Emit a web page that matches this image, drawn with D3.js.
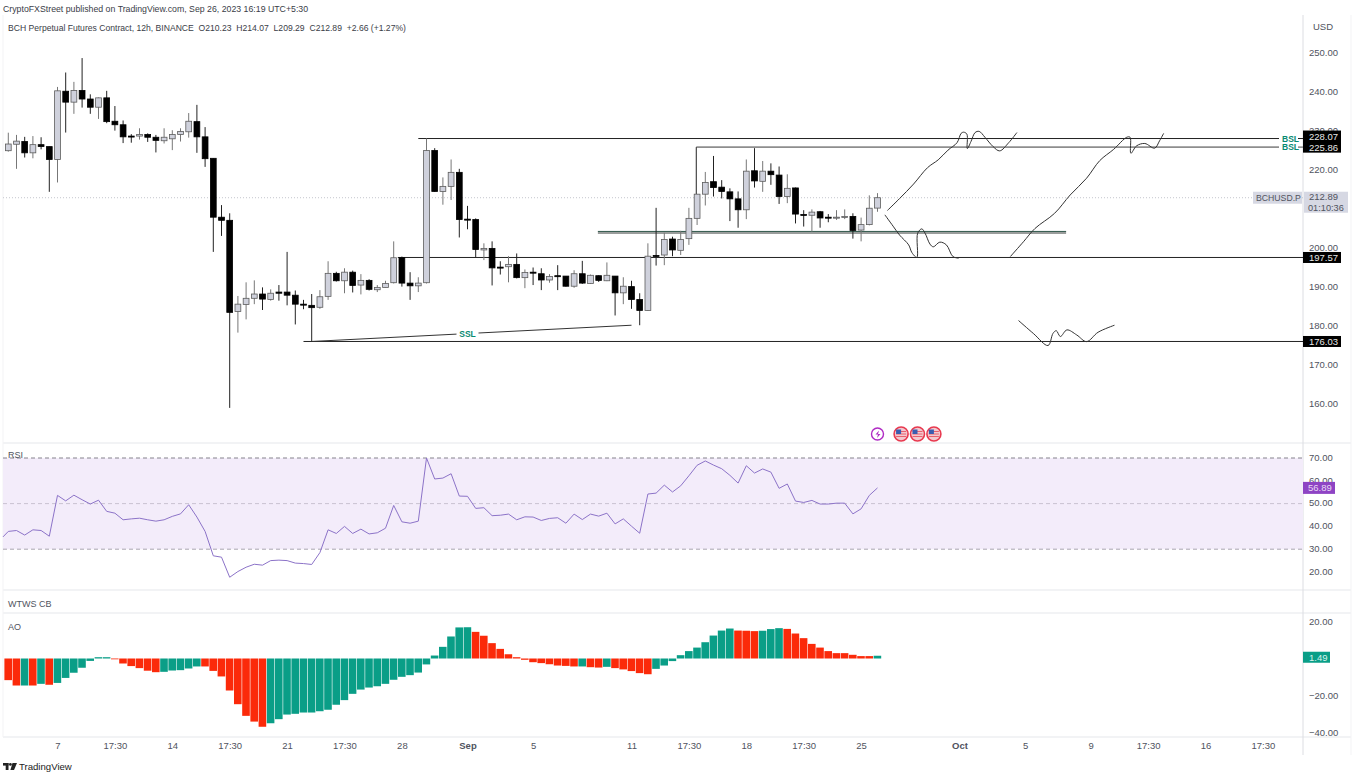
<![CDATA[<html>
<head>
  <meta charset="utf-8">
  <style>
    body { margin: 0; background: #fff; }
    text { font-family: "Liberation Sans", Inter, sans-serif; fill: #50535e; }
    .axis path, .axis line { display: none; }
    .axis text { font-family: "Liberation Sans", Inter, sans-serif; font-size: 9.5px; fill: #50535e; }
    path.drawn { fill: none; stroke: #333; stroke-width: 1; }
  </style>
  <script type="text/javascript" src="https://d3js.org/d3.v7.min.js"></script>
</head>
<body>
<div id="chart"></div>
<script>
  // open, high, low, close - one row per 12h bar
  var candles = [
    [224.95,229.57,224.7,226.66],[226.6,229,220.3,227.4],[227.3,228.5,223.2,224.4],[224.4,228.7,223,226.5],
    [226.5,228.4,225.3,226],[226,226,214.4,222.7],[222.7,241.3,216.8,240.3],[240.2,245,229.6,237.4],
    [237.4,242.6,234.4,240.4],[240.4,248.7,236,238.2],[238.2,239.4,234.4,236.1],[236.1,238.6,233.1,238.5],
    [238.5,240.3,232,232.4],[232.5,236.4,230.1,231.6],[231.6,232.7,226.9,228.5],[228.7,229.2,227,228.5],
    [228.7,230.7,227.8,229.1],[229.1,229.4,227.2,228.4],[228.4,229,224.5,227.6],[227.5,230.7,226.8,228.4],
    [228,230.2,225.1,229.1],[229.1,230.7,227.3,229.9],[229.8,234.6,228.3,232.5],[232.4,236.7,224.4,228.5],
    [228.5,231,220.8,222.9],[223,223,199,207.9],[207.9,211,203.1,207.1],[207.1,208.9,159,183.5],
    [183.7,187.7,178.3,185.6],[185.5,191.2,181.7,187.1],[187.1,191.7,185.6,188.2],[188.2,189.9,184.1,186.9],
    [186.8,189.4,186.5,188.4],[188.7,190.5,186.5,188.4],[188.7,199,185.3,187.9],[187.9,189.1,180.4,185.6],
    [185.6,186.7,184.3,185.4],[185.3,188.2,176.1,184.7],[184.8,189.2,184.4,187.5],[187.6,196.6,186.7,193.5],
    [193.5,193.9,191.4,191.6],[191.6,194.8,188.4,193.8],[193.8,194.2,188.6,190.4],[190.5,193.3,188.1,191.7],
    [191.7,192,189.1,189.4],[189.3,190.5,188.7,189.9],[189.9,191.6,189.9,190.9],[191.1,201.7,190.9,197.5],
    [197.5,197.8,190.1,191],[191,193.8,186.7,190.3],[190.3,192.5,188.7,191],[191.1,228.1,190.9,225],
    [225,225.6,214.4,214.5],[214.5,218.1,211.1,215.8],[215.8,222.7,212.3,219.4],[219.4,220.3,202.7,207.3],
    [207.4,210.8,204.8,207.2],[207.3,207.6,197.6,199.6],[199.5,201.2,196.9,199.9],[199.9,201.7,190.4,194.9],
    [195.1,196.6,193.2,194.9],[195.2,197.9,191.2,195.8],[195.8,198.6,192.2,192.4],[192.4,194.5,189.7,193.7],
    [193.8,195,190.5,193.6],[193.4,194.8,189.2,191.8],[191.8,193.3,191.1,192.7],[192.9,195.6,189.2,192.7],
    [192.8,192.8,190.1,190.2],[190.2,194.3,189.8,193.4],[193.4,196.7,190.8,191],[190.9,193.2,190.8,193],
    [192.9,193,191.3,191.7],[191.6,196.3,191.5,193],[192.8,192.8,182.7,188.5],[188.5,192.5,185.6,190.2],
    [190.1,191.6,184.4,186.8],[186.8,188.4,180.2,184],[184,201.2,183.9,197.9],[198.1,210.3,195.5,197.9],
    [198.2,203.9,195.6,202.2],[202.3,202.9,197.9,199.5],[199.4,204.4,198.2,202.2],[202.4,210.3,200.8,207.6],
    [207.6,213.8,205.9,213.8],[213.8,219.5,210.9,216.8],[217,223.6,213.2,215.5],[215.6,217.4,212.7,214.5],
    [214.4,215.3,206.9,212.6],[212.6,214.5,205.2,209.8],[209.8,222.7,207.4,219.7],[219.8,225.6,215.5,217.2],
    [217.1,222.3,214.4,219.7],[219.7,221.7,216.2,218.8],[218.7,220.9,211.3,213.2],[213.2,218.9,211.5,215.3],
    [215.4,215.5,206.3,208.7],[208.6,209.7,205.5,208.5],[208.4,209.9,204.2,209.2],[209.3,209.5,205.2,207.7],
    [207.9,208.7,206.6,207.7],[207.7,209.7,207.2,207.9],[207.9,209.9,207.4,208.1],[208.1,208.9,202.4,204.5],
    [204.6,207.8,201.7,206],[206,213.5,205.8,210.2],[210.23,214.07,209.29,212.89]
  ];

  // first value is the bar just off the left edge
  var rsi = [35.4,
    37.8,38.2,36.2,38.5,38.2,35.7,53.6,51.2,53.7,51.7,49.8,51.5,46.6,45.8,42.9,43.3,43.6,42.9,42.3,42.9,
    44.4,45.5,49.5,44.1,37.8,27.1,26.5,17.7,20.2,22.1,23.4,23,25,25.2,25,23.9,23.7,23.3,28.5,38.5,
    36.9,40,36.9,38.8,36.7,37.2,39.2,49.2,42,41.4,42.3,70,60.8,61.2,63.1,53.3,53.2,47.9,48.2,44.7,
    44.9,45.4,42.9,44.2,44.1,42.6,43.5,43.8,41.4,45.4,43,45.4,44.5,45.8,41.1,43.3,40.1,37,54.2,54.6,
    58.1,55.1,57.8,62.2,66.8,68.7,66.9,65.3,62.4,59,66.6,63.4,65.2,63.8,56.7,58.6,51.1,50.5,51.4,49.8,
    49.8,50.2,50.2,45.5,47.7,53.6,56.89
  ];

  // [value, colour flag] g = teal, r = red
  var ao = [
    [-11.7,"r"],[-14.6,"r"],[-14.6,"g"],[-14.6,"r"],[-13.7,"g"],[-14.2,"r"],[-13.2,"g"],[-10.5,"g"],[-7.7,"g"],[-5,"g"],
    [-1.3,"g"],[0.7,"g"],[0.7,"g"],[-0.2,"r"],[-2.7,"r"],[-4.1,"r"],[-5.2,"r"],[-6.6,"r"],[-7.4,"r"],[-7.2,"g"],
    [-6.5,"g"],[-6.3,"g"],[-5.4,"g"],[-4.3,"g"],[-4.3,"r"],[-6.7,"r"],[-9.7,"r"],[-17.3,"r"],[-24.7,"r"],[-31,"r"],
    [-34.1,"r"],[-36.9,"r"],[-35,"g"],[-32.8,"g"],[-30.3,"g"],[-29.9,"g"],[-29.2,"g"],[-29.2,"g"],[-28.5,"g"],[-27.7,"g"],
    [-25,"g"],[-22.5,"g"],[-19.1,"g"],[-16.8,"g"],[-15.7,"g"],[-15,"g"],[-13.7,"g"],[-11.5,"g"],[-9.9,"g"],[-9,"g"],
    [-7.6,"g"],[-3.2,"g"],[1.6,"g"],[6.3,"g"],[11.9,"g"],[16.8,"g"],[16.9,"g"],[14.4,"r"],[12.3,"r"],[8.3,"r"],
    [5.2,"r"],[2.3,"r"],[0.7,"r"],[-0.7,"r"],[-2,"r"],[-2.5,"r"],[-3.1,"r"],[-3.8,"r"],[-4,"r"],[-4.3,"r"],
    [-4.3,"g"],[-4.7,"r"],[-4.9,"r"],[-4.5,"g"],[-5.2,"r"],[-5.9,"r"],[-6.8,"r"],[-7.9,"r"],[-8.5,"r"],[-5.6,"g"],
    [-3.8,"g"],[-1.4,"g"],[1.8,"g"],[4,"g"],[5.9,"g"],[8.8,"g"],[12.4,"g"],[15.1,"g"],[16.2,"g"],[15.1,"r"],
    [15,"r"],[14.8,"r"],[15,"g"],[15.9,"g"],[16.4,"g"],[16,"r"],[13.5,"r"],[11,"r"],[7.9,"r"],[5.9,"r"],
    [4,"r"],[2.9,"r"],[2.9,"r"],[2,"r"],[1.3,"r"],[1.3,"r"],[1.49,"g"]
  ];

  // hand drawn projections, [bar index, price]
  var sketches = [
    [[107.2,209.6],[108.7,212.7],[110.4,216.4],[112.1,220.6],[113.4,222.6],[114.6,225.1],[115.7,227],[116.2,229.4],[116.5,229.7],[116.9,229.2],[116.95,225.5],[117.4,227.3],[117.9,229.6],[118.4,229.9],[119.1,228.4],[120.1,226],[120.9,224.9],[122,227],[123,229.6]],
    [[106.9,208.5],[107.9,205.6],[108.7,203.3],[109.8,200.8],[110.2,198.8],[110.8,197.6],[110.9,203.8],[111.4,204.9],[111.8,203.8],[112.4,201],[112.8,200.3],[113.6,201.5],[114.4,200.8],[115.2,197.8],[115.9,197.4]],
    [[122.2,197.8],[123.8,201.6],[125.2,205],[127.6,208.9],[129.5,213.6],[131.5,217.9],[133.1,222.4],[134.8,225.3],[136.4,228.4],[136.8,228.4],[136.9,224.3],[137.6,226.2],[138.6,226.8],[139.8,225.6],[140.4,227.5],[140.9,229.4]],
    [[123.2,181.4],[125,178.1],[126.8,175],[127.4,178.1],[127.8,178.8],[128.3,177.3],[129.1,179],[130.3,177.7],[131.5,176],[132.9,178.4],[134.9,180.2]]
  ];

  var timeTicks = [[6,"7"],[13,"17:30"],[20,"14"],[27,"17:30"],[34,"21"],[41,"17:30"],[48,"28"],[56,"Sep"],[64,"5"],
    [76,"11"],[83,"17:30"],[90,"18"],[97,"17:30"],[104,"25"],[116,"Oct"],[124,"5"],[132,"9"],[139,"17:30"],[146,"16"],[153,"17:30"]];

  var width = 1359, height = 772;
  var plotLeft = 3, plotRight = 1303;

  var x = d3.scaleLinear().domain([0, 153]).range([8.3, 8.3 + 153 * 8.2]);
  var y = d3.scaleLinear().domain([160, 250]).range([404, 53]);
  var yRsi = d3.scaleLinear().domain([20, 70]).range([572, 458]);
  var yAo = d3.scaleLinear().domain([-40, 20]).range([732.5, 621.5]);

  var svg = d3.select("#chart").append("svg")
      .attr("width", width)
      .attr("height", height);

  // pane borders
  [443, 590, 613, 737].forEach(function(v) {
    svg.append("line").attr("x1", plotLeft).attr("x2", 1351).attr("y1", v).attr("y2", v)
      .attr("stroke", "#eeeff2").attr("stroke-width", 1.5);
  });
  svg.append("line").attr("x1", plotRight).attr("x2", plotRight).attr("y1", 15).attr("y2", 755)
      .attr("stroke", "#dcdde2");
  svg.append("line").attr("x1", 1351).attr("x2", 1351).attr("y1", 15).attr("y2", 755)
      .attr("stroke", "#f3f3f5");
  svg.append("line").attr("x1", plotLeft).attr("x2", plotLeft).attr("y1", 15).attr("y2", 737)
      .attr("stroke", "#f3f3f5");

  // header
  svg.append("text").attr("x", 3).attr("y", 12).style("font-size", "8.75px").style("fill", "#3a3d47")
      .text("CryptoFXStreet published on TradingView.com, Sep 26, 2023 16:19 UTC+5:30");
  svg.append("text").attr("x", 8).attr("y", 31).style("font-size", "8.6px").style("fill", "#3a3d47")
      .attr("xml:space", "preserve")
      .text("BCH Perpetual Futures Contract, 12h, BINANCE  O210.23  H214.07  L209.29  C212.89  +2.66 (+1.27%)");

  // last price dotted line
  svg.append("line").attr("x1", plotLeft).attr("x2", plotRight)
      .attr("y1", y(212.89)).attr("y2", y(212.89))
      .attr("stroke", "#c4c6ce").attr("stroke-width", 1).attr("stroke-dasharray", "1,2");

  // price levels
  function level(p, from, to, color, w) {
    svg.append("line").attr("x1", from).attr("x2", to)
      .attr("y1", y(p)).attr("y2", y(p))
      .attr("stroke", color).attr("stroke-width", w);
  }
  level(228.07, x(50), 1279, "#222", 1);
  level(228.07, 1298, plotRight, "#222", 1);
  level(225.86, x(83.9), 1279, "#8e8e8e", 1.6);
  level(225.86, 1298, plotRight, "#8e8e8e", 1.6);
  level(203.9, x(71.9), x(129), "#9a9d9c", 2.5);
  level(204.25, x(71.9), x(129), "#1e4a3c", 0.9);
  level(197.57, x(47.5), plotRight, "#222", 1);
  level(176.03, x(36), plotRight, "#222", 1);

  // anchor from the level back to bar 84
  svg.append("line").attr("x1", x(83.9)).attr("x2", x(83.9))
      .attr("y1", y(225.86)).attr("y2", y(213.8)).attr("stroke", "#222");

  // SSL trend line, broken by its label
  svg.append("line").attr("x1", x(37)).attr("x2", x(76))
      .attr("y1", y(176.03)).attr("y2", y(180.2)).attr("stroke", "#333");
  svg.append("rect").attr("x", x(56) - 11).attr("y", y(178.1) - 6).attr("width", 22).attr("height", 12).attr("fill", "#fff");
  svg.append("text").attr("x", x(56)).attr("y", y(178.1) + 3.5).attr("text-anchor", "middle")
      .style("font-size", "8.5px").style("font-weight", 700).style("fill", "#0a8a72").text("SSL");

  // candles
  var candle = svg.append("g").selectAll("g").data(candles).enter().append("g");
  candle.append("line")
      .attr("x1", function(d, i) { return x(i); })
      .attr("x2", function(d, i) { return x(i); })
      .attr("y1", function(d) { return y(d[1]); })
      .attr("y2", function(d) { return y(d[2]); })
      .attr("stroke", function(d) { return d[3] >= d[0] ? "#777" : "#222"; });
  candle.append("rect")
      .attr("x", function(d, i) { return x(i) - 2.9; })
      .attr("width", 5.8)
      .attr("y", function(d) { return y(Math.max(d[0], d[3])); })
      .attr("height", function(d) { return Math.max(1, Math.abs(y(d[0]) - y(d[3]))); })
      .attr("fill", function(d) { return d[3] >= d[0] ? "#cfd1dc" : "#000"; })
      .attr("stroke", function(d) { return d[3] >= d[0] ? "#5c5c5c" : "#000"; })
      .attr("stroke-width", 0.8);

  // sketches
  var sketchLine = d3.line()
      .x(function(d) { return x(d[0]); })
      .y(function(d) { return y(d[1]); })
      .curve(d3.curveCatmullRom.alpha(0.5));
  svg.selectAll("path.drawn").data(sketches).enter().append("path")
      .attr("class", "drawn")
      .attr("d", sketchLine);

  // BSL labels
  [228.07, 225.86].forEach(function(p) {
    svg.append("text").attr("x", 1282).attr("y", y(p) + 3).style("font-size", "8.5px")
      .style("font-weight", 700).style("fill", "#0a8a72").text("BSL");
  });

  // event icons
  var events = svg.append("g");
  var iconY = 434;
  events.append("circle").attr("cx", x(106)).attr("cy", iconY).attr("r", 6)
      .attr("fill", "#fff").attr("stroke", "#b02bc4").attr("stroke-width", 1.4);
  events.append("path")
      .attr("d", "M" + (x(106) + 1.5) + "," + (iconY - 3.5) + "l-3.5,4h2.5l-1,3.5l3.5,-4h-2.5z")
      .attr("fill", "#b02bc4");
  [109, 111, 113].forEach(function(b) {
    var cx = x(b) - 1;
    events.append("circle").attr("cx", cx).attr("cy", iconY).attr("r", 7)
      .attr("fill", "#f3c9cf").attr("stroke", "#e8394f").attr("stroke-width", 1.6);
    [-2.5, 0, 2.5].forEach(function(o) {
      events.append("line").attr("x1", cx - 5).attr("x2", cx + 5).attr("y1", iconY + o).attr("y2", iconY + o)
        .attr("stroke", "#e8606f").attr("stroke-width", 1);
    });
    events.append("rect").attr("x", cx - 5).attr("y", iconY - 4.5).attr("width", 5).attr("height", 4.5).attr("fill", "#3a5db0");
  });

  // RSI pane
  svg.append("rect").attr("x", plotLeft).attr("width", plotRight - plotLeft)
      .attr("y", yRsi(70)).attr("height", yRsi(30) - yRsi(70)).attr("fill", "#f3ecfa");
  [[70, "#85828c"], [50, "#c9c2d1"], [30, "#a9a5b0"]].forEach(function(d) {
    svg.append("line").attr("x1", plotLeft).attr("x2", plotRight)
      .attr("y1", yRsi(d[0])).attr("y2", yRsi(d[0]))
      .attr("stroke", d[1]).attr("stroke-dasharray", "4,3");
  });
  var rsiLine = d3.line()
      .x(function(d, i) { return Math.max(plotLeft, x(i - 1)); })
      .y(function(d) { return yRsi(d); });
  svg.append("path").datum(rsi).attr("d", rsiLine)
      .attr("fill", "none").attr("stroke", "#8c73c8").attr("stroke-width", 1);
  svg.append("text").attr("x", 8).attr("y", 458).style("font-size", "9px").text("RSI");

  // AO pane
  svg.append("text").attr("x", 8).attr("y", 607).style("font-size", "9px").text("WTWS CB");
  svg.append("text").attr("x", 8).attr("y", 630).style("font-size", "9px").text("AO");
  svg.append("g").selectAll("rect").data(ao).enter().append("rect")
      .attr("x", function(d, i) { return x(i) - 3.9; })
      .attr("width", 7.6)
      .attr("y", function(d) { return Math.min(yAo(0), yAo(d[0])); })
      .attr("height", function(d) { return Math.max(0.8, Math.abs(yAo(d[0]) - yAo(0))); })
      .attr("fill", function(d) { return d[1] == "g" ? "#0a9e87" : "#fb2a0a"; });

  // axes, 210 sits under the last price tag so it is left out
  var fmt = d3.format(".2f");
  svg.append("text").attr("x", 1313).attr("y", 30).style("font-size", "9.5px").text("USD");
  svg.append("g").attr("class", "axis").attr("transform", "translate(" + plotRight + ",-0.7)")
      .call(d3.axisRight(y).tickValues([160, 170, 180, 190, 200, 220, 230, 240, 250]).tickFormat(fmt).tickSize(0).tickPadding(6));
  svg.append("g").attr("class", "axis").attr("transform", "translate(" + plotRight + ",-0.7)")
      .call(d3.axisRight(yRsi).tickValues(d3.range(20, 71, 10)).tickFormat(fmt).tickSize(0).tickPadding(6));
  svg.append("g").attr("class", "axis").attr("transform", "translate(" + plotRight + ",0)")
      .call(d3.axisRight(yAo).tickValues([20, -20, -40]).tickFormat(fmt).tickSize(0).tickPadding(6));

  var xAxis = d3.axisBottom(x)
      .tickValues(timeTicks.map(function(d) { return d[0]; }))
      .tickFormat(function(d) { return timeTicks.find(function(t) { return t[0] == d; })[1]; })
      .tickSize(0).tickPadding(0);
  var xg = svg.append("g").attr("class", "axis").attr("transform", "translate(0,742)").call(xAxis);
  xg.selectAll("text")
      .filter(function() { return this.textContent == "Sep" || this.textContent == "Oct"; })
      .style("font-weight", 700);

  // price tags
  function tag(x0, y0, w, h, bg, color, label, tx, size) {
    svg.append("rect").attr("x", x0).attr("y", y0).attr("width", w).attr("height", h).attr("fill", bg);
    svg.append("text").attr("x", tx).attr("y", y0 + h / 2 + 3.4).style("font-size", (size || 9.5) + "px").style("fill", color).text(label);
  }
  tag(plotRight, y(228.07) - 8, 38, 13, "#000", "#e8e8e8", "228.07", 1309);
  tag(plotRight, y(225.86) - 4.5, 38, 10, "#000", "#e8e8e8", "225.86", 1309);
  tag(plotRight, y(197.57) - 5.5, 38, 11, "#000", "#e8e8e8", "197.57", 1309);
  tag(plotRight, y(176.03) - 5.5, 38, 11, "#000", "#e8e8e8", "176.03", 1309);
  tag(1253, y(212.89) - 6, 49, 12, "#d6d8e3", "#50535e", "BCHUSD.P", 1256, 8.7);
  svg.append("rect").attr("x", plotRight + 1).attr("y", y(212.89) - 6).attr("width", 44).attr("height", 21).attr("fill", "#d6d8e3");
  svg.append("text").attr("x", 1309).attr("y", y(212.89) + 2.5).style("font-size", "9.5px").text("212.89");
  svg.append("text").attr("x", 1308).attr("y", y(212.89) + 12.8).style("font-size", "9.2px").text("01:10:36");
  tag(plotRight, yRsi(56.89) - 6, 32, 12, "#8e44c4", "#e9d9f5", "56.89", 1308);
  tag(plotRight, yAo(1.49) - 4, 27, 11, "#0a9e87", "#d8f2ec", "1.49", 1309);

  // footer logo
  var logo = svg.append("g").attr("transform", "translate(3,763)").attr("fill", "#222");
  logo.append("rect").attr("x", 0).attr("y", 0).attr("width", 5.5).attr("height", 2.6);
  logo.append("rect").attr("x", 2.7).attr("y", 0).attr("width", 2.8).attr("height", 7);
  logo.append("circle").attr("cx", 7.4).attr("cy", 1.4).attr("r", 1.4);
  logo.append("path").attr("d", "M9.5,0h4.5l-3,7h-3.6z");
  svg.append("text").attr("x", 19).attr("y", 769.5).style("font-size", "9.6px").style("fill", "#222").text("TradingView");
</script>
</body>
</html>
]]>
